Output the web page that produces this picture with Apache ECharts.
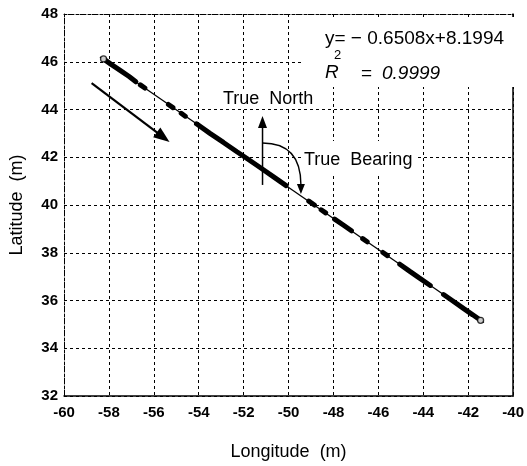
<!DOCTYPE html>
<html>
<head>
<meta charset="utf-8">
<script src="https://cdn.jsdelivr.net/npm/echarts@6/dist/echarts.min.js"></script>
<style>
  html, body { margin: 0; padding: 0; background: #fff; }
  #chart { width: 527px; height: 466px; }
</style>
</head>
<body>
<div id="chart"></div>
<script>
// Tick labels
const xTicks = [-60, -58, -56, -54, -52, -50, -48, -46, -44, -42, -40];
const yTicks = [32, 34, 36, 38, 40, 42, 44, 46, 48];

// Recorded track, longitude / latitude (m); null marks a gap between recorded stretches
const trackLon = [-58.24, -57.9, -57.5, -57.1, -56.8, null,
  -56.6, -56.4, null,
  -55.35, -55.15, null,
  -54.78, -54.6, null,
  -54.1, -53.5, -52.9, -52.3, -51.87, -51.3, -50.7, -50.11, null,
  -49.1, -48.85, null,
  -48.55, -48.35, null,
  -47.95, -47.55, -47.2, null,
  -46.7, -46.5, null,
  -45.8, -45.6, null,
  -45.05, -44.6, -44.2, -43.69, null,
  -43.1, -42.7, -42.2, -41.8, -41.45];
const trackLat = [46.12, 45.89, 45.64, 45.38, 45.16, null,
  45.03, 44.90, null,
  44.21, 44.08, null,
  43.84, 43.72, null,
  43.40, 43.00, 42.62, 42.23, 41.96, 41.59, 41.20, 40.81, null,
  40.16, 40.00, null,
  39.80, 39.67, null,
  39.41, 39.15, 38.92, null,
  38.59, 38.46, null,
  38.01, 37.88, null,
  37.52, 37.22, 36.96, 36.63, null,
  36.25, 35.99, 35.66, 35.40, 35.17];

// Least-squares fit end points
const fitLon = [-58.4, -41.3];
const fitLat = [46.20, 35.08];

const fitText = 'y= \u2212 0.6508x+8.1994';
const r2Text = '0.9999';

const track = trackLon.map((x, i) => (x === null ? null : [x, trackLat[i]]));
const fit = fitLon.map((x, i) => [x, fitLat[i]]);
const endPoints = [track[0], track[track.length - 1]];

const FONT = '"Liberation Sans", Arial, sans-serif';

const chart = echarts.init(document.getElementById('chart'));

const axisCommon = {
  axisTick: { show: false },
  splitLine: { show: true, lineStyle: { color: '#000', type: [3, 3], width: 1 } },
  axisLabel: { color: '#000', fontFamily: FONT, fontSize: 15, fontWeight: 'bold' },
  nameTextStyle: { color: '#000', fontFamily: FONT, fontSize: 18 }
};

chart.setOption({
  animation: false,
  backgroundColor: '#fff',
  grid: { left: 62, right: 10, top: 14, bottom: 70 },
  xAxis: [{
    ...axisCommon,
    type: 'value', min: xTicks[0], max: xTicks[xTicks.length - 1], interval: 2,
    name: 'Longitude  (m)', nameLocation: 'middle', nameGap: 47,
    axisLine: { show: true, lineStyle: { color: '#000', width: 1.5 } },
    axisLabel: { ...axisCommon.axisLabel, margin: 9 }
  }, {
    type: 'value', position: 'top', min: xTicks[0], max: xTicks[xTicks.length - 1],
    axisLine: { show: true, lineStyle: { color: '#000', width: 1, type: [2, 2] } },
    axisLabel: { show: false }, axisTick: { show: false }, splitLine: { show: false }
  }],
  yAxis: [{
    ...axisCommon,
    type: 'value', min: yTicks[0], max: yTicks[yTicks.length - 1], interval: 2,
    name: 'Latitude  (m)', nameLocation: 'middle', nameGap: 38,
    axisLine: { show: true, lineStyle: { color: '#000', width: 1, type: [2, 2] } },
    axisLabel: { ...axisCommon.axisLabel, margin: 6 }
  }, {
    type: 'value', position: 'right', min: yTicks[0], max: yTicks[yTicks.length - 1],
    axisLine: { show: true, lineStyle: { color: '#000', width: 1.5 } },
    axisLabel: { show: false }, axisTick: { show: false }, splitLine: { show: false }
  }],
  series: [{
    type: 'line', data: fit, symbol: 'none', silent: true,
    lineStyle: { color: '#000', width: 1.3 }
  }, {
    type: 'line', data: track, symbol: 'none', silent: true, connectNulls: false,
    lineStyle: { color: '#000', width: 5, cap: 'round' }
  }, {
    type: 'scatter', data: endPoints, symbol: 'circle', symbolSize: 6,
    itemStyle: { color: '#fff', borderColor: '#000', borderWidth: 1.3 }, z: 5
  }]
});

// Annotation geometry in data coordinates
const travelArrow = [[-58.77, 45.10], [-55.30, 42.64]];
const northArrow = [[-51.16, 40.84], [-51.16, 43.73]];
const bearingArc = { start: [-51.16, 42.60], ctrl: [-49.45, 42.60], end: [-49.45, 40.84], tip: [-49.45, 40.46] };

function px(p) { return chart.convertToPixel({ gridIndex: 0 }, p); }

function arrowHead(tip, from, len, half) {
  const dx = tip[0] - from[0], dy = tip[1] - from[1];
  const d = Math.hypot(dx, dy), ux = dx / d, uy = dy / d;
  const bx = tip[0] - ux * len, by = tip[1] - uy * len;
  return [tip, [bx - uy * half, by + ux * half], [bx + uy * half, by - ux * half]];
}

const a0 = px(travelArrow[0]), a1 = px(travelArrow[1]);
const n0 = px(northArrow[0]), n1 = px(northArrow[1]);
const bs = px(bearingArc.start), bc = px(bearingArc.ctrl), be = px(bearingArc.end), bt = px(bearingArc.tip);

const label = (t, x, y, font) => ({
  type: 'text', x, y, z: 20,
  style: { text: t, fill: '#000', font: font + ' ' + FONT, textVerticalAlign: 'middle' }
});

const mask = (x, y, w, h) => ({ type: 'rect', z: 8, shape: { x, y, width: w, height: h }, style: { fill: '#fff' } });

chart.setOption({
  graphic: [
    mask(304, 17, 211, 70),
    mask(217, 89, 103, 19),
    mask(303, 141, 115, 35),
    { type: 'line', z: 10, shape: { x1: a0[0], y1: a0[1], x2: a1[0] - (a1[0] - a0[0]) * 0.12, y2: a1[1] - (a1[1] - a0[1]) * 0.12 },
      style: { stroke: '#000', lineWidth: 2.2 } },
    { type: 'polygon', z: 10, shape: { points: arrowHead(a1, a0, 16, 6) }, style: { fill: '#000' } },
    { type: 'line', z: 10, shape: { x1: n0[0], y1: n0[1], x2: n1[0], y2: n1[1] + 8 }, style: { stroke: '#000', lineWidth: 1.5 } },
    { type: 'polygon', z: 10, shape: { points: arrowHead(n1, n0, 12, 4.5) }, style: { fill: '#000' } },
    { type: 'bezierCurve', z: 10, shape: { x1: bs[0], y1: bs[1], cpx1: bc[0], cpy1: bc[1], x2: be[0], y2: be[1] },
      style: { stroke: '#000', lineWidth: 1.4, fill: null } },
    { type: 'polygon', z: 10, shape: { points: arrowHead(bt, be, 10, 4) }, style: { fill: '#000' } },
    label(fitText, 325, 39, '19px'),
    label('R', 325, 73, 'italic 19px'),
    label('2', 334, 55, '13px'),
    label('=', 361, 74, '19px'),
    label(r2Text, 382, 74, 'italic 19px'),
    label('True  North', 223, 99, '18px'),
    label('True  Bearing', 304, 160, '18px')
  ]
});
</script>
</body>
</html>
